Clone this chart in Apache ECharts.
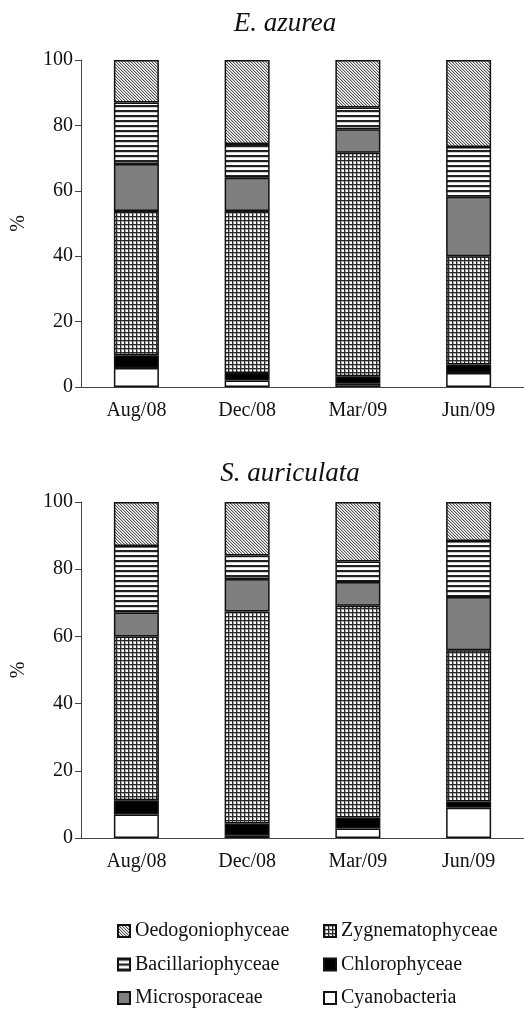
<!DOCTYPE html>
<html>
<head>
<meta charset="utf-8">
<script src="https://cdn.jsdelivr.net/npm/echarts@6/dist/echarts.min.js"></script>
<style>
  html, body { margin: 0; padding: 0; background: #fff; }
  #chart { width: 524px; height: 1011px; }
</style>
</head>
<body>
<div id="chart"></div>
<script>
// sampling dates
const months = ['Aug/08', 'Dec/08', 'Mar/09', 'Jun/09']
const yTicks = [0, 20, 40, 60, 80, 100]

// E. azurea (%)
const cyanoA = [5.8, 2.0, 1.0, 4.3]
const chloroA = [3.9, 2.3, 2.3, 2.6]
const zygA = [44.1, 49.5, 68.3, 33.1]
const microA = [14.4, 10.2, 7.2, 18.2]
const bacA = [18.8, 10.3, 6.7, 15.2]
const oedoA = [13.0, 25.7, 14.5, 26.6]

// S. auriculata (%)
const cyanoS = [7.0, 0.8, 2.8, 9.0]
const chloroS = [4.2, 3.5, 3.3, 1.9]
const zygS = [48.8, 63.1, 63.0, 45.0]
const microS = [7.1, 9.7, 7.1, 15.8]
const bacS = [19.8, 7.0, 6.1, 16.7]
const oedoS = [13.1, 15.9, 17.7, 11.6]

const FONT = '"Liberation Serif", "Times New Roman", serif'

// little tiles for the excel-like fills
function tile(w, h, draw) {
  const c = document.createElement('canvas')
  c.width = w; c.height = h
  const ctx = c.getContext('2d')
  ctx.fillStyle = '#fff'
  ctx.fillRect(0, 0, w, h)
  draw(ctx)
  return { image: c, repeat: 'repeat' }
}

const diagFill = tile(3, 3, ctx => {
  ctx.fillStyle = '#555'
  for (let i = 0; i < 3; i++) ctx.fillRect(i, i, 1, 1)
  ctx.fillStyle = '#c8c8c8'
  for (let i = 0; i < 3; i++) ctx.fillRect((i + 1) % 3, i, 1, 1)
})
const hlineFill = tile(4, 5, ctx => {
  ctx.fillStyle = '#222'
  ctx.fillRect(0, 0, 4, 2)
  ctx.fillStyle = '#cfcfcf'
  ctx.fillRect(0, 2, 4, 1)
})
const gridFill = tile(4, 4, ctx => {
  ctx.fillStyle = '#2a2a2a'
  ctx.fillRect(0, 0, 4, 1)
  ctx.fillRect(0, 0, 1, 4)
  ctx.fillStyle = '#a8a8a8'
  ctx.fillRect(1, 1, 3, 1)
  ctx.fillRect(1, 1, 1, 3)
})

const groups = [
  { name: 'Cyanobacteria', fill: '#ffffff', a: cyanoA, s: cyanoS },
  { name: 'Chlorophyceae', fill: '#000000', a: chloroA, s: chloroS },
  { name: 'Zygnematophyceae', fill: gridFill, a: zygA, s: zygS },
  { name: 'Microsporaceae', fill: '#7f7f7f', a: microA, s: microS },
  { name: 'Bacillariophyceae', fill: hlineFill, a: bacA, s: bacS },
  { name: 'Oedogoniophyceae', fill: diagFill, a: oedoA, s: oedoS }
]

function bars(key, idx) {
  return groups.map(g => ({
    name: g.name,
    type: 'bar',
    stack: 'st' + idx,
    xAxisIndex: idx,
    yAxisIndex: idx,
    barWidth: 45,
    itemStyle: { color: g.fill, borderColor: '#111', borderWidth: 1.5 },
    emphasis: { disabled: true },
    data: g[key]
  }))
}

function xAx(i) {
  return {
    type: 'category', gridIndex: i, data: months,
    axisLine: { lineStyle: { color: '#444', width: 1 } },
    axisTick: { length: 6, lineStyle: { color: '#444' } },
    axisLabel: { fontFamily: FONT, fontSize: 20, color: '#111', margin: 14 }
  }
}
function yAx(i) {
  return {
    type: 'value', gridIndex: i, min: yTicks[0], max: yTicks[yTicks.length - 1], interval: 20,
    name: '%', nameLocation: 'middle', nameRotate: 90, nameGap: 52,
    nameTextStyle: { fontFamily: FONT, fontSize: 20, color: '#111' },
    axisLine: { show: true, lineStyle: { color: '#444', width: 1 } },
    axisTick: { show: true, length: 6, lineStyle: { color: '#444' } },
    axisLabel: { fontFamily: FONT, fontSize: 20, color: '#111', margin: 8 },
    splitLine: { show: false }
  }
}

function legendCol(left, names) {
  return {
    orient: 'vertical', left, top: 921, padding: 0,
    itemWidth: 12, itemHeight: 12, itemGap: 13.5,
    selectedMode: false,
    textStyle: { fontFamily: FONT, fontSize: 20, color: '#111', lineHeight: 20 },
    data: names.map(n => ({ name: n, icon: 'rect' }))
  }
}

const chart = echarts.init(document.getElementById('chart'), null, { renderer: 'canvas' })
chart.setOption({
  animation: false,
  backgroundColor: '#fff',
  graphic: [
    { type: 'text', x: 285, y: 24, style: { text: 'E. azurea', font: 'italic 27px ' + FONT, fill: '#111', textAlign: 'center', textVerticalAlign: 'middle' } },
    { type: 'text', x: 290, y: 474, style: { text: 'S. auriculata', font: 'italic 27px ' + FONT, fill: '#111', textAlign: 'center', textVerticalAlign: 'middle' } }
  ],
  grid: [
    { left: 81, top: 60, width: 443, height: 327, outerBoundsMode: 'none', containLabel: false },
    { left: 81, top: 502, width: 443, height: 336, outerBoundsMode: 'none', containLabel: false }
  ],
  xAxis: [xAx(0), xAx(1)],
  yAxis: [yAx(0), yAx(1)],
  legend: [
    legendCol(117, ['Oedogoniophyceae', 'Bacillariophyceae', 'Microsporaceae']),
    legendCol(323, ['Zygnematophyceae', 'Chlorophyceae', 'Cyanobacteria'])
  ],
  series: [...bars('a', 0), ...bars('s', 1)]
})
</script>
</body>
</html>
